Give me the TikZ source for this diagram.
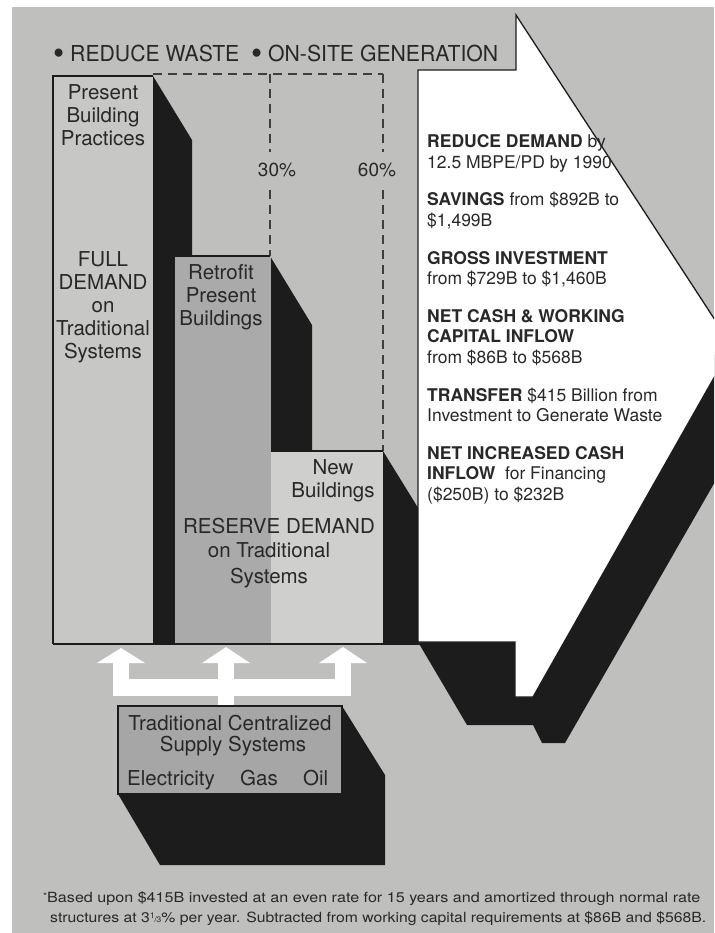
\documentclass[tikz,border=0pt]{standalone}
\usepackage{fontspec}
\setmainfont{TeX Gyre Heros}
\usepackage{graphicx}
\definecolor{paper}{RGB}{191,191,190}
\definecolor{barfull}{RGB}{199,199,198}
\definecolor{barretro}{RGB}{170,170,170}
\definecolor{barnew}{RGB}{207,207,206}
\definecolor{boxgray}{RGB}{166,166,166}
\definecolor{ink}{RGB}{28,28,28}
\definecolor{txt}{RGB}{40,40,40}
\newcommand{\onethird}{{\fontsize{8}{8}\selectfont\raisebox{3.5pt}{1}\kern-0.4pt/\kern-0.4pt3}}
\newcommand{\bigdot}{\raisebox{-2.5pt}{\scalebox{1.5}{\textbullet}}}
\begin{document}
\begin{tikzpicture}[x=1pt,y=-1pt,
  shadowfill/.style={fill=ink},
  edge/.style={draw=ink,line width=1.3pt},
  guide/.style={draw=ink!85,line width=1.1pt,dash pattern=on 9pt off 6pt},
  lbl/.style={inner sep=0pt,text=txt,align=center,font=\fontsize{20.5}{23}\selectfont},
  lbline/.style={inner sep=0pt,text=txt,anchor=base,font=\fontsize{20.5}{23}\selectfont},
  pct/.style={inner sep=0pt,text=txt,anchor=base,font=\fontsize{19}{22}\selectfont},
  side/.style={inner sep=0pt,text=txt,anchor=base west,font=\fontsize{17.5}{20}\selectfont},
  note/.style={inner sep=0pt,text=txt,anchor=base west,font=\fontsize{14}{16}\selectfont}]
\useasboundingbox (0,0) rectangle (714,933);
\clip (0,0) rectangle (714,933);
\fill[white] (0,0) rectangle (714,933);
\fill[paper] (12,7) rectangle (714,933);

% dashed target lines
\draw[guide] (153,74) -- (383,74);
\draw[guide] (270,74) -- (270,152);
\draw[guide] (270,190) -- (270,256);
\draw[guide] (383,74) -- (383,152);
\draw[guide] (383,190) -- (383,451);

% present building practices bar and its shadow
\fill[shadowfill] (153,76) -- (192,140) -- (192,644) -- (153,644) -- cycle;
\fill[barfull] (53,76) rectangle (153,644);

% retrofit bar and its shadow
\fill[shadowfill] (270,256) -- (312,325) -- (312,644) -- (270,644) -- cycle;
\fill[barretro] (175,256) rectangle (271,644);

% new buildings bar and its shadow
\fill[shadowfill] (383,451) -- (420,511) -- (420,644) -- (383,644) -- cycle;
\fill[barnew] (271,451) rectangle (383,644);

% bar outlines
\draw[edge] (53,644) -- (53,76) -- (153,76);
\draw[edge] (175,256) -- (270,256);
\draw[edge] (271,451) -- (383,451);
\draw[edge] (53,644) -- (420,644);

% big arrow: shadow, then white body
\fill[shadowfill] (418,642) -- (467,725) -- (533,725) -- (542,743) -- (565,743)
  -- (793,346) -- (732,346) -- (418,500) -- cycle;
\filldraw[fill=white,edge] (418,70) -- (516,70) -- (516,15) -- (732,346)
  -- (533,697) -- (515,697) -- (515,642) -- (418,642) -- cycle;

% supply arrows
\fill[white] (113,679) rectangle (351,696);
\fill[white] (113,663) rectangle (129,696);
\fill[white] (218,663) rectangle (234,706);
\fill[white] (335,663) rectangle (351,696);
\fill[white] (97,663) -- (121,648) -- (145,663) -- cycle;
\fill[white] (202,663) -- (226,647) -- (250,663) -- cycle;
\fill[white] (319,663) -- (343,647) -- (367,663) -- cycle;

% supply box
\fill[shadowfill] (342,706) -- (385,775) -- (385,865) -- (160,865) -- (118,794) -- (342,794) -- cycle;
\filldraw[fill=boxgray,edge] (118,706) rectangle (342,794);

% headline
\node[anchor=base west,inner sep=0pt,text=txt,font=\fontsize{22}{26}\selectfont] (title) at (53,62)
  {\resizebox{445pt}{\height}{\bigdot\ REDUCE WASTE\ \ \bigdot\ ON-SITE GENERATION}};

% percentages
\node[pct] (p30) at (277,177) {30\%};
\node[pct] (p60) at (377,177) {60\%};

% bar labels
\node[lbl,anchor=north] (present) at (103,84) {Present\\Building\\Practices};
\node[lbl,anchor=north] (full) at (103,251) {FULL\\DEMAND\\on\\Traditional\\Systems};
\node[lbl,anchor=north] (retro) at (221,264) {Retrofit\\Present\\Buildings};
\node[lbl,anchor=north] (newb) at (333,459) {New\\Buildings};
\node[lbline] (res1) at (279,533) {RESERVE DEMAND};
\node[lbline] (res2) at (269,557) {on Traditional};
\node[lbline] (res3) at (269,583) {Systems};

% supply box text
\node[lbline] (sup1) at (230,730) {Traditional Centralized};
\node[lbline] (sup2) at (233,751) {Supply Systems};
\node[lbline,anchor=base west] (elec) at (127,785) {Electricity};
\node[lbline,anchor=base west] (gas) at (240,785) {Gas};
\node[lbline,anchor=base west] (oil) at (303,785) {Oil};

% results column
\node[side] (r1) at (427,148) {\textbf{REDUCE DEMAND} by};
\node[side] (r2) at (427,168.5) {12.5 MBPE/PD by 1990};
\node[side] (r3) at (427,206) {\textbf{SAVINGS} from \$892B to};
\node[side] (r4) at (427,226.5) {\$1,499B};
\node[side] (r5) at (427,264) {\textbf{GROSS INVESTMENT}};
\node[side] (r6) at (427,284.5) {from \$729B to \$1,460B};
\node[side] (r7) at (427,322) {\textbf{NET CASH \& WORKING}};
\node[side] (r8) at (427,342.5) {\textbf{CAPITAL INFLOW}};
\node[side] (r9) at (427,363) {from \$86B to \$568B};
\node[side] (r10) at (427,401) {\textbf{TRANSFER} \$415 Billion from};
\node[side] (r11) at (427,421.5) {Investment to Generate Waste};
\node[side] (r12) at (427,459) {\textbf{NET INCREASED CASH}};
\node[side] (r13) at (427,479.5) {\textbf{INFLOW}\ \ for Financing};
\node[side] (r14) at (427,500) {(\$250B) to \$232B};

% footnote
\node[note] (fn1) at (43,902) {\resizebox{657pt}{\height}{\raisebox{3pt}{\fontsize{9}{9}\selectfont *}Based upon \$415B invested at an even rate for 15 years and amortized through normal rate}};
\node[note] (fn2) at (50,922) {\resizebox{656pt}{\height}{structures at 3\onethird\% per year. Subtracted from working capital requirements at \$86B and \$568B.}};
\end{tikzpicture}
\end{document}
